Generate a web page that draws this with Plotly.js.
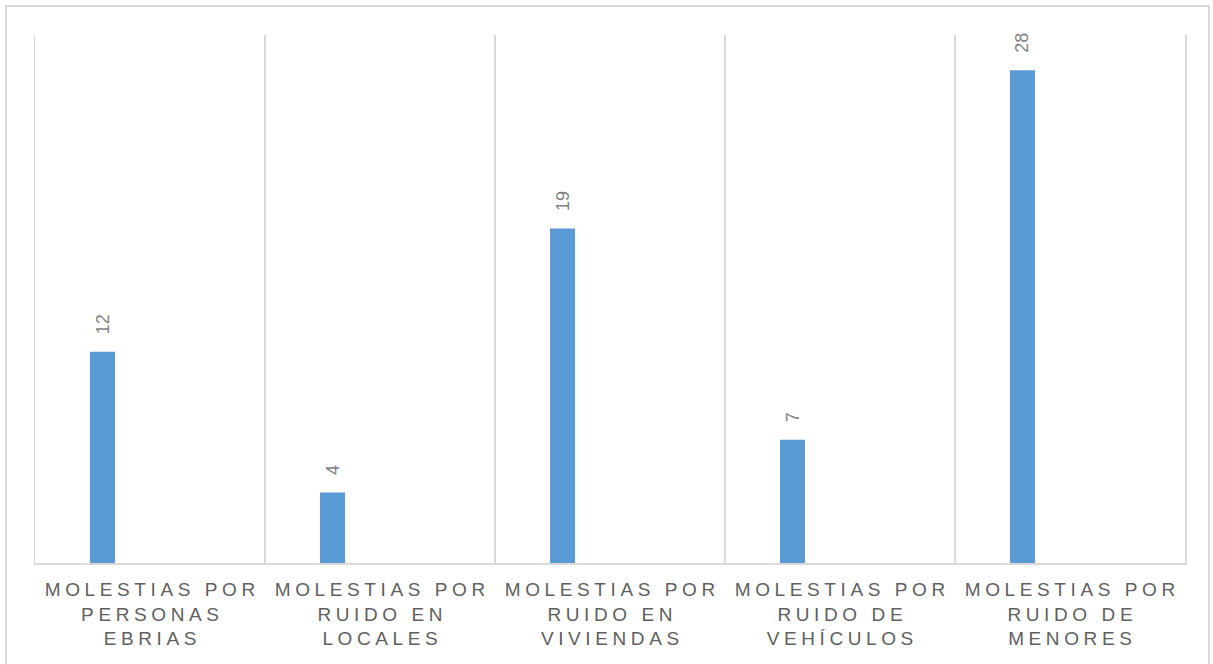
<!DOCTYPE html>
<html>
<head>
<meta charset="utf-8">
<script src="https://cdn.plot.ly/plotly-3.0.1.min.js"></script>
<style>
  html, body { margin: 0; padding: 0; background: #ffffff; }
  #frame { position: absolute; left: 5px; top: 5px; width: 1205px; height: 680px; border: 2px solid #d9d9d9; box-sizing: border-box; }
  #chart { position: absolute; left: 0; top: 0; width: 1213px; height: 664px; }
</style>
</head>
<body>
<div id="frame"></div>
<div id="chart"></div>
<script>
const categories = [
  "MOLESTIAS POR<br>PERSONAS<br>EBRIAS",
  "MOLESTIAS POR<br>RUIDO EN<br>LOCALES",
  "MOLESTIAS POR<br>RUIDO EN<br>VIVIENDAS",
  "MOLESTIAS POR<br>RUIDO DE<br>VEHÍCULOS",
  "MOLESTIAS POR<br>RUIDO DE<br>MENORES"
];
const values = [12, 4, 19, 7, 28];
const valueLabels = ["12", "4", "19", "7", "28"];

const barWidth = 0.109;
const barOffset = -0.261;

const trace = {
  type: "bar",
  x: categories,
  y: values,
  width: barWidth,
  offset: barOffset,
  marker: { color: "#5b9bd5" },
  hoverinfo: "skip",
  showlegend: false
};

const annotations = categories.map((c, i) => ({
  x: c,
  y: values[i],
  xref: "x",
  yref: "y",
  text: valueLabels[i],
  showarrow: false,
  textangle: -90,
  xanchor: "center",
  yanchor: "bottom",
  xshift: -47.5,
  yshift: 15,
  font: { family: "Liberation Sans, Arial, sans-serif", size: 18, color: "#7f7f7f" }
}));

const layout = {
  width: 1213,
  height: 664,
  margin: { l: 35, r: 28, t: 35, b: 101 },
  paper_bgcolor: "rgba(0,0,0,0)",
  plot_bgcolor: "rgba(0,0,0,0)",
  showlegend: false,
  xaxis: {
    type: "category",
    tickson: "boundaries",
    showgrid: true,
    gridcolor: "#d9d9d9",
    gridwidth: 1.5,
    showline: true,
    linecolor: "#d9d9d9",
    linewidth: 2,
    mirror: false,
    ticks: "",
    tickangle: 0,
    ticklabelstandoff: 8,
    tickfont: { family: "Liberation Sans, Arial, sans-serif", size: 19, color: "#5f5f5f" },
    fixedrange: true
  },
  yaxis: {
    range: [0, 30],
    showgrid: false,
    zeroline: false,
    showline: true,
    mirror: true,
    linecolor: "#d9d9d9",
    linewidth: 1.5,
    showticklabels: false,
    ticks: "",
    fixedrange: true
  },
  annotations: annotations
};

Plotly.newPlot("chart", [trace], layout, { displayModeBar: false, staticPlot: true }).then(() => {
  document.querySelectorAll(".xtick text").forEach(t => {
    t.style.letterSpacing = "4.6px";
    t.setAttribute("transform", (t.getAttribute("transform") || "") + " translate(2.3,0)");
  });
});
</script>
</body>
</html>
